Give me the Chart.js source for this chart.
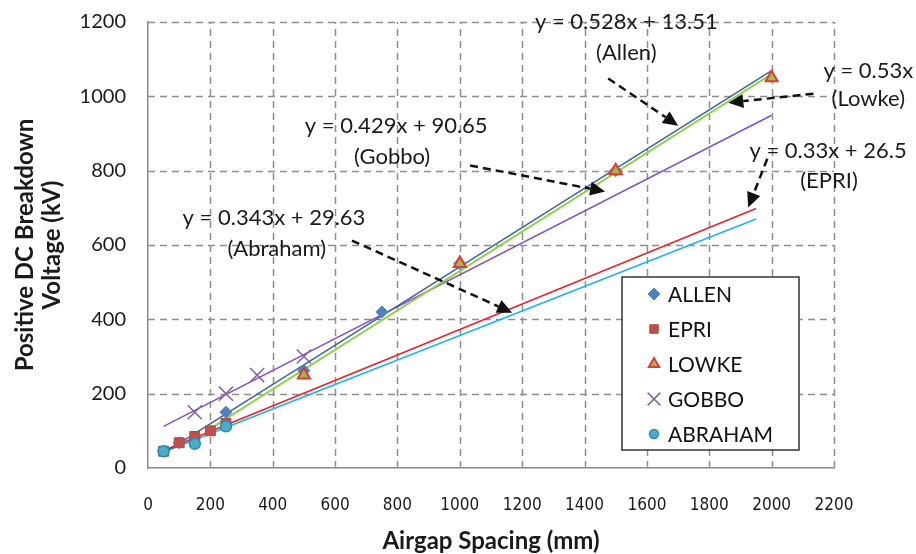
<!DOCTYPE html>
<html lang="en">
<head>
<title>Positive DC Breakdown Voltage</title>
<script src="https://cdn.jsdelivr.net/npm/chart.js@4/dist/chart.umd.min.js"></script>
<style>
  body { margin: 0; background: #fff; }
  #wrap { width: 916px; height: 554px; }
</style>
<script>
// measured points (mm, kV)
var allenX = [50, 100, 150, 250, 500, 750, 1000, 1500];
var allenY = [45, 68, 82, 150, 262, 420, 550, 800];
var epriX = [50, 100, 150, 200, 250];
var epriY = [45, 68, 85, 100, 120];
var lowkeX = [500, 1000, 1500, 2000];
var lowkeY = [250, 550, 800, 1050];
var gobboX = [150, 250, 350, 500];
var gobboY = [150, 200, 250, 300];
var abrahamX = [50, 150, 250];
var abrahamY = [45, 65, 112];

// trendline end points
var allenFitX = [50, 2000],   allenFitY = [40, 1069];
var lowkeFitX = [200, 2000],  lowkeFitY = [106, 1060];
var gobboFitX = [50, 2000],   gobboFitY = [112, 949];
var redFitX = [50, 1950],     redFitY = [47, 698];
var cyanFitX = [50, 1950],    cyanFitY = [43, 670];

var xTicks = [0, 200, 400, 600, 800, 1000, 1200, 1400, 1600, 1800, 2000, 2200];
var yTicks = [0, 200, 400, 600, 800, 1000, 1200];

// equation labels: text lines, label centre, arrow from / to (data units)
var notes = [
  { lines: ['y = 0.528x + 13.51', '(Allen)'], at: [[1534, 1199], [1534, 1118]], arrow: [[1476, 1048], [1700, 921]] },
  { lines: ['y = 0.53x', '(Lowke)'], at: [[2310, 1069], [2310, 994]], arrow: [[2134, 1007], [1861, 983]] },
  { lines: ['y = 0.33x + 26.5', '(EPRI)'], at: [[2181, 854], [2184, 773]], arrow: [[1986, 832], [1925, 701]] },
  { lines: ['y = 0.429x + 90.65', '(Gobbo)'], at: [[796, 921], [783, 838]], arrow: [[1033, 814], [1466, 744]] },
  { lines: ['y = 0.343x + 29.63', '(Abraham)'], at: [[404, 674], [413, 590]], arrow: [[654, 612], [1168, 418]] }
];

function pts(xs, ys) {
  var out = [];
  for (var i = 0; i < xs.length; i++) { out.push({ x: xs[i], y: ys[i] }); }
  return out;
}

function fitLine(xs, ys, color, w) {
  return { label: '', data: pts(xs, ys), showLine: true, borderColor: color, borderWidth: w,
           pointRadius: 0, fill: false, order: 20, isFit: true };
}

// dashed grid, drawn from the scales' own ticks
var gridPlugin = {
  id: 'dashgrid',
  beforeDatasetsDraw: function(chart) {
    var ctx = chart.ctx, a = chart.chartArea;
    ctx.save();
    ctx.strokeStyle = '#8e8e8e';
    ctx.lineWidth = 1.5;
    ctx.setLineDash([7, 5]);
    chart.scales.x.ticks.forEach(function(t) {
      if (t.value === 0) return;
      var px = Math.round(chart.scales.x.getPixelForValue(t.value)) + 0.5;
      ctx.beginPath(); ctx.moveTo(px, a.bottom); ctx.lineTo(px, a.top); ctx.stroke();
    });
    chart.scales.y.ticks.forEach(function(t) {
      if (t.value === 0) return;
      var py = Math.round(chart.scales.y.getPixelForValue(t.value)) + 0.5;
      ctx.beginPath(); ctx.moveTo(a.left, py); ctx.lineTo(a.right, py); ctx.stroke();
    });
    ctx.restore();
  }
};

var annoPlugin = {
  id: 'anno',
  afterDatasetsDraw: function(chart) {
    var ctx = chart.ctx, sx = chart.scales.x, sy = chart.scales.y;
    ctx.save();
    notes.forEach(function(n) {
      var x0 = sx.getPixelForValue(n.arrow[0][0]), y0 = sy.getPixelForValue(n.arrow[0][1]);
      var x1 = sx.getPixelForValue(n.arrow[1][0]), y1 = sy.getPixelForValue(n.arrow[1][1]);
      var a = Math.atan2(y1 - y0, x1 - x0), L = 15, W = 7;
      ctx.strokeStyle = '#111';
      ctx.lineWidth = 2.5;
      ctx.setLineDash([8, 5]);
      ctx.beginPath();
      ctx.moveTo(x0, y0);
      ctx.lineTo(x1 - L * Math.cos(a), y1 - L * Math.sin(a));
      ctx.stroke();
      ctx.setLineDash([]);
      ctx.fillStyle = '#111';
      ctx.beginPath();
      ctx.moveTo(x1, y1);
      ctx.lineTo(x1 - L * Math.cos(a) + W * Math.sin(a), y1 - L * Math.sin(a) - W * Math.cos(a));
      ctx.lineTo(x1 - L * Math.cos(a) - W * Math.sin(a), y1 - L * Math.sin(a) + W * Math.cos(a));
      ctx.closePath();
      ctx.fill();
    });
    ctx.font = '22px Lato, "Open Sans", sans-serif';
    ctx.textAlign = 'center';
    ctx.textBaseline = 'middle';
    ctx.fillStyle = '#1a1a1a';
    notes.forEach(function(n) {
      for (var i = 0; i < n.lines.length; i++) {
        ctx.fillText(n.lines[i], sx.getPixelForValue(n.at[i][0]), sy.getPixelForValue(n.at[i][1]));
      }
    });
    // legend box
    var bx = 622, by = 277, bw = 177, bh = 173;
    ctx.fillStyle = '#fff';
    ctx.fillRect(bx, by, bw, bh);
    ctx.strokeStyle = '#333';
    ctx.lineWidth = 1.5;
    ctx.strokeRect(bx, by, bw, bh);
    var rows = chart.data.datasets.filter(function(d) { return !d.isFit; });
    rows.sort(function(a, b) { return a.legendIndex - b.legendIndex; });
    ctx.textAlign = 'left';
    ctx.font = '21px Lato, "Open Sans", sans-serif';
    rows.forEach(function(d, i) {
      var cy = by + 17 + i * 35;
      ctx.fillStyle = d.backgroundColor;
      ctx.strokeStyle = d.borderColor;
      ctx.lineWidth = d.borderWidth;
      Chart.helpers.drawPoint(ctx, { pointStyle: d.pointStyle, radius: d.legendRadius, rotation: 0, borderWidth: d.borderWidth }, 654, cy);
      ctx.fillStyle = '#111';
      ctx.fillText(d.label, 668, cy + 1);
    });
    ctx.restore();
  }
};

function plain(v) { return String(v); }

function go() {
  var ctx = document.getElementById('myChart');
  new Chart(ctx, {
    type: 'scatter',
    data: {
      datasets: [
        fitLine(allenFitX, allenFitY, '#3f6597', 1.6),
        fitLine(lowkeFitX, lowkeFitY, '#92d050', 2),
        fitLine(gobboFitX, gobboFitY, '#8a4fc4', 1.6),
        fitLine(redFitX, redFitY, '#e2262b', 1.6),
        fitLine(cyanFitX, cyanFitY, '#1fb2ee', 1.6),
        { label: 'ALLEN', legendIndex: 0, data: pts(allenX, allenY), pointStyle: 'rectRot', pointRadius: 6, legendRadius: 6,
          backgroundColor: '#4f81bd', borderColor: '#4f81bd', borderWidth: 1, order: 5 },
        { label: 'EPRI', legendIndex: 1, data: pts(epriX, epriY), pointStyle: 'rect', pointRadius: 7, legendRadius: 6,
          backgroundColor: '#c0504d', borderColor: '#b84541', borderWidth: 1, order: 4 },
        { label: 'LOWKE', legendIndex: 2, data: pts(lowkeX, lowkeY), pointStyle: 'triangle', pointRadius: 7, legendRadius: 6,
          backgroundColor: '#9bbb59', borderColor: '#e03b30', borderWidth: 2, order: 3 },
        { label: 'GOBBO', legendIndex: 3, data: pts(gobboX, gobboY), pointStyle: 'crossRot', pointRadius: 10, legendRadius: 9,
          backgroundColor: '#8064a2', borderColor: '#8064a2', borderWidth: 1.5, order: 2 },
        { label: 'ABRAHAM', legendIndex: 4, data: pts(abrahamX, abrahamY), pointStyle: 'circle', pointRadius: 5.5, legendRadius: 4.5,
          backgroundColor: '#4bacc6', borderColor: '#2a8cb5', borderWidth: 1.5, order: 1 }
      ]
    },
    options: {
      responsive: false,
      animation: false,
      layout: { padding: { top: 22, right: 82, left: 0, bottom: 0 } },
      plugins: { legend: { display: false }, tooltip: { enabled: false } },
      scales: {
        x: {
          type: 'linear', min: 0, max: 2200,
          afterBuildTicks: function(s) { s.ticks = xTicks.map(function(v) { return { value: v }; }); },
          afterFit: function(s) { s.height = 86; },
          grid: { display: false, drawTicks: false },
          border: { display: true, color: '#8a8a8a', width: 1.5 },
          ticks: { padding: 27, color: '#1a1a1a', maxRotation: 0, autoSkip: false, callback: plain,
                   font: { family: '"DejaVu Sans Condensed", Lato, sans-serif', size: 17 } },
          title: { display: true, text: 'Airgap Spacing (mm)', color: '#1a1a1a',
                   font: { family: 'Lato, "Open Sans", sans-serif', size: 24, weight: 'bold', lineHeight: 1.1 },
                   padding: { top: 0, bottom: 0 } }
        },
        y: {
          type: 'linear', min: 0, max: 1200,
          afterBuildTicks: function(s) { s.ticks = yTicks.map(function(v) { return { value: v }; }); },
          afterFit: function(s) { s.width = 148; s.paddingTop = 12; s.paddingBottom = 12; },
          grid: { display: false, drawTicks: false },
          border: { display: true, color: '#8a8a8a', width: 1.5 },
          ticks: { padding: 22, color: '#1a1a1a', autoSkip: false, callback: plain,
                   font: { family: 'Lato, "Open Sans", sans-serif', size: 20 } },
          title: { display: true, text: ['Positive DC Breakdown', 'Voltage (kV)'], color: '#1a1a1a',
                   font: { family: 'Lato, "Open Sans", sans-serif', size: 24, weight: 'bold', lineHeight: 1.15 },
                   padding: { top: 11, bottom: 0 } }
        }
      }
    },
    plugins: [gridPlugin, annoPlugin]
  });
}
</script>
</head>
<body onload="go();">
<div id="wrap"><canvas id="myChart" width="916" height="554"></canvas></div>
</body>
</html>
